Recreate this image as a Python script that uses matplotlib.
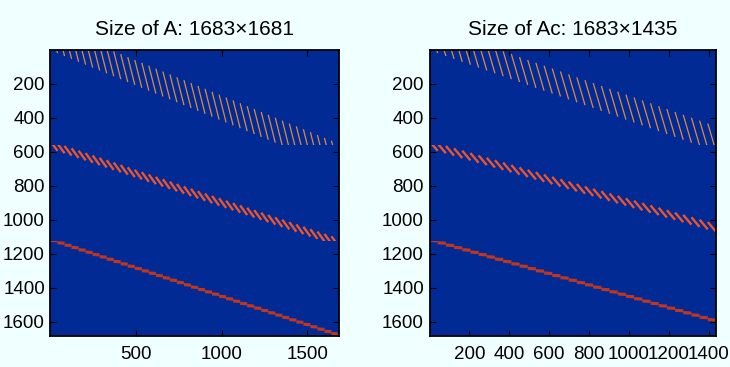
import matplotlib
matplotlib.use("Agg")
import matplotlib.pyplot as plt
from matplotlib.collections import LineCollection
from matplotlib.patches import Rectangle

plt.rcParams['font.family'] = ['Liberation Sans', 'DejaVu Sans']

# ------------------------------------------------------------
# Datos
titles = ['Size of A: 1683\u00d71681', 'Size of Ac: 1683\u00d71435']
n_rows = [1683, 1683]
n_cols = [1681, 1435]
x_ticks = [[500, 1000, 1500], [200, 400, 600, 800, 1000, 1200, 1400]]
y_ticks = [200, 400, 600, 800, 1000, 1200, 1400, 1600]

# tres bloques de filas de la matriz
block_rows = [(1, 561), (562, 1122), (1123, 1683)]
stripe_cols = 41                  # columnas que cubre cada franja
first_top = [-145, 537, 1121]     # fila superior de la primera franja
top_step = [17.0, 14.0, 13.7]     # desplazamiento de filas entre franjas
stripe_drop = [164, 57, 3]        # filas que baja una franja
block_colors = ['#dd8a3e', '#ea552d', '#bd3622']
block_lw = [0.9, 1.7, 2.3]
# ------------------------------------------------------------

bg_fig = '#f0ffff'
bg_ax = '#022a94'

fig = plt.figure(figsize=(7.3, 3.67), dpi=100, facecolor=bg_fig)
W, H = 730, 367
boxes = [(50.5, 50, 288, 286), (429.5, 50, 286.5, 286)]

for k in range(2):
    x0, y0, w, h = boxes[k]
    ax = fig.add_axes([x0 / W, (H - y0 - h) / H, w / W, h / H])
    ax.set_facecolor(bg_ax)
    ncol = n_cols[k]
    n_stripes = ncol // stripe_cols

    for b in range(3):
        segs = []
        for i in range(n_stripes):
            xa = stripe_cols * i + 0.5
            xb = xa + stripe_cols
            ya = first_top[b] + top_step[b] * i
            segs.append([(xa, ya), (xb, ya + stripe_drop[b])])
        lc = LineCollection(segs, colors=block_colors[b], linewidths=block_lw[b],
                            capstyle='butt')
        r0, r1 = block_rows[b]
        clip = Rectangle((0.5, r0 - 0.5), ncol, r1 - r0 + 1, transform=ax.transData)
        ax.add_collection(lc)
        lc.set_clip_path(clip)

    ax.set_xlim(0.5, ncol + 0.5)
    ax.set_ylim(n_rows[k] + 0.5, 0.5)
    ax.set_xticks(x_ticks[k])
    ax.set_yticks(y_ticks)
    ax.tick_params(direction='in', length=4, width=0.8, top=True, right=True,
                   labelsize=13.5, colors='black')
    ax.tick_params(axis='x', pad=7)
    ax.tick_params(axis='y', pad=4)
    for s in ax.spines.values():
        s.set_linewidth(1.3)
        s.set_color('black')
    ax.set_title(titles[k], fontsize=15, pad=11)

fig.savefig('out.png', dpi=100, facecolor=bg_fig)
